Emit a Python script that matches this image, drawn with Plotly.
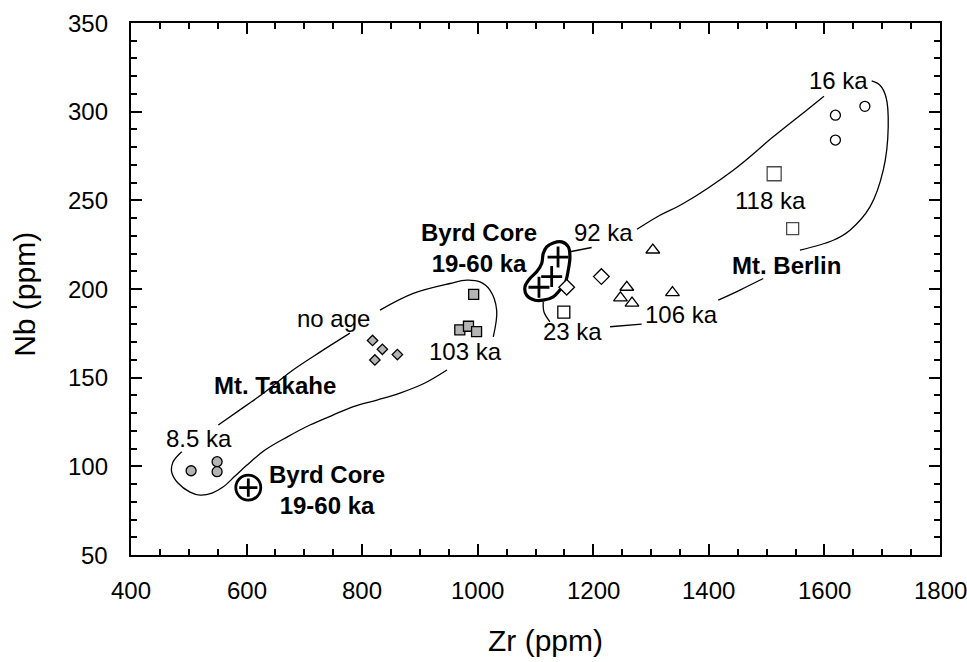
import plotly.graph_objects as go

# ---------------- data ----------------
# Mt. Berlin
berlin_16ka_x = [1670, 1619, 1619]
berlin_16ka_y = [303, 298, 284]
berlin_118ka_x = [1513, 1545]
berlin_118ka_y = [265, 234]
tri_106ka_x = [1303, 1258, 1247, 1267, 1337]
tri_106ka_y = [222, 201, 195, 192, 198]
dia_92ka_x = [1154, 1214]
dia_92ka_y = [201, 207]
sq_23ka_x = [1149]
sq_23ka_y = [187]
# Byrd core
byrd_x = [1139, 1128, 1106]
byrd_y = [218, 207, 201]
byrd_low_x = [603]
byrd_low_y = [88]
# Mt. Takahe
tak_85ka_x = [504, 549, 549]
tak_85ka_y = [97.5, 102.6, 97]
tak_noage_x = [818, 835, 822, 861]
tak_noage_y = [171, 166, 160, 163]
tak_103ka_x = [993, 969, 984, 998]
tak_103ka_y = [197, 177, 179, 176]

# outlines (data units, None = break)
takahe_x = [487.7, 472.7, 470.4, 481.3, 502.1, 519.4, 540.2, 559.2, 580, 600.7, 631.9, 669.9,
            709.7, 749.5, 787.6, 825.7, 865.4, 908.7, 946.8, None,
            1026.9, 1032.8, 1021.2, 1003.9, 980.9, 952, 888.5, 830.9, None,
            778.9, 727, 675.1, 631.9, 600.2, 551.1]
takahe_y = [108.2, 102.4, 96.8, 90.6, 85.5, 83.8, 84.9, 88.3, 94.5, 100.7, 109.2, 116.5,
            123.3, 128.9, 134, 137.4, 141.3, 147, 154.3, None,
            173, 188.1, 199.4, 204, 205, 203.1, 197.5, 188.1, None,
            175.1, 164.4, 153.1, 141.9, 134.5, 123.3]
berlin_x = [1275.6, 1315.4, 1355.7, 1442.2, 1511.4, 1569.2, 1599.2, None,
            1681.7, 1696.1, 1706.5, 1710.4, 1701.8, 1678.8, 1644.2, 1615.3, 1557.6, None,
            1494.1, 1453.8, 1416.2, None,
            1228.9, 1283.7, None,
            1125, 1114.7, 1113.4, None,
            1159.6, 1197.2]
berlin_y = [233.7, 241.6, 248.2, 267, 285.8, 300.8, 308.7, None,
            317.3, 314.9, 308.3, 291.4, 267, 246.3, 233.2, 227.5, 221.9, None,
            205.9, 199.4, 193.7, None,
            178.7, 180.2, None,
            181.5, 187, 192.8, None,
            221, 223.4]
blob_x = [1119.3, 1130.7, 1145.3, 1156.7, 1159.6, 1156.7, 1151, 1142.3, 1130.7, 1113.4, 1099.1,
          1084.7, 1081.8, 1090.4, 1102, 1110.7, 1113.4, 1119.3]
blob_y = [223.8, 226, 226.6, 223.8, 218.1, 210.6, 203.1, 199.4, 195.6, 193.7, 193.7,
          196.5, 201.2, 205.9, 209.7, 214.4, 220, 223.8]

# labels
lab_text = ["16 ka", "118 ka", "106 ka", "92 ka", "23 ka", "103 ka", "no age", "8.5 ka"]
lab_x = [1624, 1506, 1353, 1218, 1164, 978, 750, 518]
lab_y = [317.3, 250.1, 185.8, 231.6, 175.8, 164.6, 183.5, 115.8]
bold_text = ["Mt. Berlin", "Byrd Core<br>19-60 ka", "Mt. Takahe", "Byrd Core<br>19-60 ka"]
bold_x = [1535, 1002, 649, 740]
bold_y = [213.4, 222.9, 145.8, 86.6]

x_ticks = [400, 600, 800, 1000, 1200, 1400, 1600, 1800]
y_ticks = [50, 100, 150, 200, 250, 300, 350]

FONT = "Liberation Sans, Arial, Helvetica, sans-serif"
GRAY = "#b4b4b4"

fig = go.Figure()

def line_trace(xs, ys, width=1.3, shape="spline"):
    fig.add_trace(go.Scatter(x=xs, y=ys, mode="lines",
                             line=dict(color="black", width=width, shape=shape, smoothing=1.0),
                             connectgaps=False, hoverinfo="skip"))

line_trace(takahe_x, takahe_y)
line_trace(berlin_x, berlin_y)
line_trace(blob_x, blob_y, width=3.2)

def mk(xs, ys, symbol, size, fill="white", lw=1.3):
    fig.add_trace(go.Scatter(x=xs, y=ys, mode="markers",
                             marker=dict(symbol=symbol, size=size, color=fill,
                                         line=dict(color="black", width=lw))))

mk(berlin_16ka_x, berlin_16ka_y, "circle", 10)
mk(berlin_118ka_x, berlin_118ka_y, "square", [14, 12])
mk(tri_106ka_x, tri_106ka_y, "triangle-up", 12)
mk(dia_92ka_x, dia_92ka_y, "diamond", 12)
mk(sq_23ka_x, sq_23ka_y, "square", 12)
mk(tak_85ka_x, tak_85ka_y, "circle", 10, fill=GRAY)
mk(tak_noage_x, tak_noage_y, "diamond", 8, fill=GRAY)
mk(tak_103ka_x, tak_103ka_y, "square", 10, fill=GRAY)
fig.add_trace(go.Scatter(x=byrd_x, y=byrd_y, mode="markers",
                         marker=dict(symbol="cross-thin-open", size=15, color="black",
                                     line=dict(color="black", width=2.8))))
fig.add_trace(go.Scatter(x=byrd_low_x, y=byrd_low_y, mode="markers",
                         marker=dict(symbol="circle-open", size=25, color="black",
                                     line=dict(color="black", width=2.8))))
fig.add_trace(go.Scatter(x=byrd_low_x, y=byrd_low_y, mode="markers",
                         marker=dict(symbol="cross-thin-open", size=13, color="black",
                                     line=dict(color="black", width=2.8))))

for t, x, y in zip(lab_text, lab_x, lab_y):
    fig.add_annotation(x=x, y=y, text=t, showarrow=False,
                       font=dict(family=FONT, size=24, color="black"))
for t, x, y in zip(bold_text, bold_x, bold_y):
    fig.add_annotation(x=x, y=y, text="<b>" + t.replace("<br>", "</b><br><b>") + "</b>",
                       showarrow=False, align="center",
                       font=dict(family=FONT, size=24, color="black"))

# tick labels placed on the axis scales
TICKFONT = dict(family=FONT, size=24, color="black")
for v in x_ticks:
    fig.add_annotation(x=v, xref="x", y=-0.0658, yref="paper", text=str(v), showarrow=False,
                       xanchor="center", yanchor="middle", font=TICKFONT)
for v in y_ticks:
    fig.add_annotation(y=v, yref="y", x=-0.026, xref="paper", text=str(v), showarrow=False,
                       xanchor="right", yanchor="middle", font=TICKFONT)

fig.add_annotation(xref="paper", yref="paper", x=0.512, y=-0.16, xanchor="center",
                   yanchor="middle", text="Zr (ppm)",
                   showarrow=False, font=dict(family=FONT, size=30, color="black"))
fig.add_annotation(xref="paper", yref="paper", x=-0.131, y=0.489, xanchor="center",
                   yanchor="middle", text="Nb (ppm)",
                   textangle=-90, showarrow=False, font=dict(family=FONT, size=30, color="black"))

axis_common = dict(showline=True, linecolor="black", linewidth=2, mirror="allticks",
                   ticks="inside", ticklen=11, tickwidth=2, tickcolor="black",
                   showgrid=False, zeroline=False, showticklabels=False)
fig.update_xaxes(range=[400, 1800], tickvals=x_ticks,
                 minor=dict(dtick=50, ticks="inside", ticklen=6, tickcolor="black", tickwidth=1.5),
                 **axis_common)
fig.update_yaxes(range=[50, 350], tickvals=y_ticks,
                 minor=dict(dtick=10, ticks="inside", ticklen=6, tickcolor="black", tickwidth=1.5),
                 **axis_common)

fig.update_layout(width=967, height=662, showlegend=False,
                  margin=dict(l=131, r=27, t=23, b=107, pad=0),
                  plot_bgcolor="white", paper_bgcolor="white")

fig.write_html("out.html")
